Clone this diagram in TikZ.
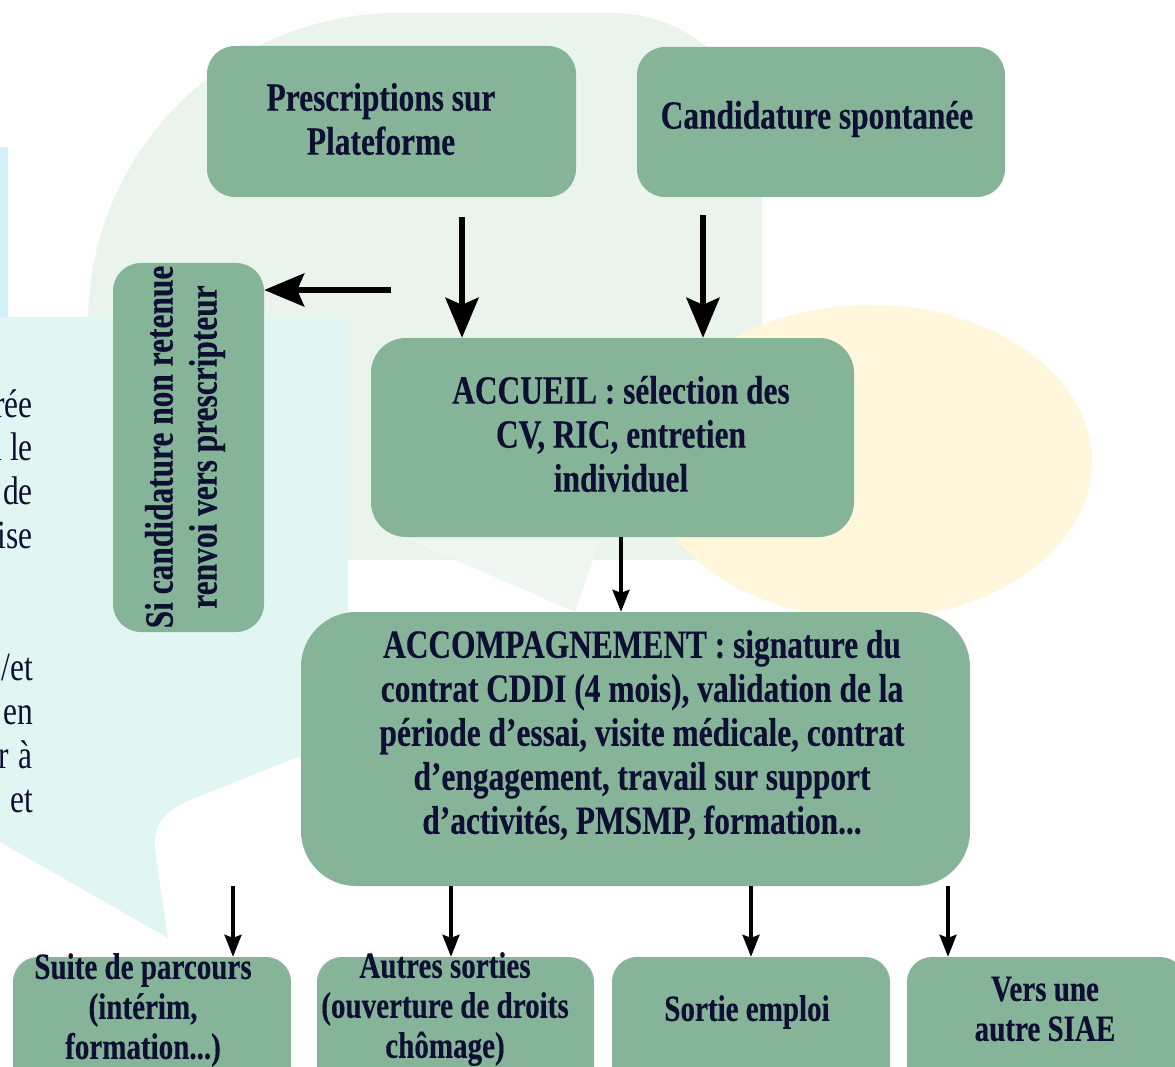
\documentclass[tikz,border=0pt]{standalone}
\usepackage{fontspec}
\setmainfont{Liberation Serif}[FakeStretch=0.785, BoldFeatures={FakeBold=0.3}]
\usetikzlibrary{arrows.meta}
\definecolor{boxgreen}{HTML}{86B499}
\definecolor{txt}{HTML}{0E0F33}
\definecolor{bggreen}{HTML}{EAF4EC}
\definecolor{bgcyan}{HTML}{E1F5F3}
\definecolor{bgyellow}{HTML}{FFF6DC}
\definecolor{bgblue}{HTML}{D4F1FA}
\begin{document}
\begin{tikzpicture}[x=1pt,y=-1pt,
  box/.style={fill=boxgreen, draw=none, rectangle, rounded corners=#1, inner sep=0pt},
  box/.default=28pt,
  lbl/.style={text=txt, font=\fontsize{40}{44}\selectfont\bfseries, align=center, inner sep=0pt},
  slbl/.style={text=txt, font=\fontsize{37}{40}\selectfont\bfseries, align=center, inner sep=0pt},
  frag/.style={text=txt, font=\fontsize{40}{44}\selectfont, anchor=base east, inner sep=0pt},
  bigarrow/.style={line width=5.5pt, -{Stealth[length=40pt, width=33pt, inset=7pt]}},
  smallarrow/.style={line width=3.2pt, -{Stealth[length=22pt, width=17pt, inset=3pt]}},
]
\useasboundingbox (0,0) rectangle (1175,1067);
\clip (0,0) rectangle (1175,1067);
\fill[white] (0,0) rectangle (1175,1067);

% background bubbles
\fill[bgblue] (0,147) rectangle (8,317);
\fill[bggreen] (88,560) -- (88,323) arc[start angle=180, end angle=270, radius=310]
  -- (612,13) arc[start angle=270, end angle=360, radius=150] -- (762,560) -- cycle;
\fill[bggreen!70!white] (410,540) -- (600,540) -- (575,612) -- cycle;
\fill[bgyellow] (870,462) ellipse[x radius=222, y radius=157];
\fill[bgyellow, rounded corners=40pt] (287,630) rectangle (420,770);
\fill[bgcyan] (0,317) -- (348,317) -- (348,737) -- (190,800)
  .. controls (160,812) and (153,830) .. (155,850) -- (168,938) -- (0,842) -- cycle;

% boxes
\node[box, minimum width=369pt, minimum height=151pt] (presc) at (391.5,121.5) {};
\node[box, minimum width=368pt, minimum height=150pt] (cand) at (821,122) {};
\node[box, minimum width=151pt, minimum height=369pt] (side) at (188.5,447.5) {};
\node[box=35pt, minimum width=483pt, minimum height=199pt] (accueil) at (612.5,437.5) {};
\node[box=55pt, minimum width=669pt, minimum height=274pt] (accomp) at (635.5,749) {};
\node[box=25pt, minimum width=278pt, minimum height=140pt] (suite) at (152,1027) {};
\node[box=25pt, minimum width=277pt, minimum height=140pt] (autres) at (455.5,1027) {};
\node[box=25pt, minimum width=278pt, minimum height=140pt] (sortie) at (751,1027) {};
\node[box=25pt, minimum width=278pt, minimum height=140pt] (vers) at (1046,1027) {};

% texts
\node[lbl] (prescT) at (381,119) {Prescriptions sur\\Plateforme};
\node[lbl] (candT) at (817,119) {Candidature spontanée};
\node[lbl, rotate=90] (sideT) at (185,447) {Si candidature non retenue\\renvoi vers prescripteur};
\node[lbl] (accueilT) at (621,434) {ACCUEIL : sélection des\\CV, RIC, entretien\\individuel};
\node[lbl] (accompT) at (642,735) {ACCOMPAGNEMENT : signature du\\contrat CDDI (4 mois), validation de la\\période d’essai, visite médicale, contrat\\d’engagement, travail sur support\\d’activités, PMSMP, formation...};
\node[slbl] (suiteT) at (143,1010) {Suite de parcours\\(intérim,\\formation...)};
\node[slbl] (autresT) at (445,1009) {Autres sorties\\(ouverture de droits\\chômage)};
\node[slbl] (sortieT) at (747,1012) {Sortie emploi};
\node[slbl] (versT) at (1045,1009) {Vers une\\autre SIAE};

% left text fragments
\node[frag] (f1) at (33,417) {rée};
\node[frag] (f2) at (33,460) {n\hspace{8pt}le};
\node[frag] (f3) at (33,504) {de};
\node[frag] (f4) at (33,548) {ise};
\node[frag] (f5) at (33,680) {/et};
\node[frag] (f6) at (33,724) {en};
\node[frag] (f7) at (33,768) {r\hspace{10pt}à};
\node[frag] (f8) at (33,812) {et};

% connectors
\coordinate (la) at (391,290);
\draw[bigarrow] (la) -- (side.east |- la);
\coordinate (pa) at (462,217);
\draw[bigarrow] (pa) -- (pa |- accueil.north);
\coordinate (ca) at (703,215);
\draw[bigarrow] (ca) -- (ca |- accueil.north);
\coordinate (aa) at (621,537);
\draw[smallarrow] (aa) -- (aa |- accomp.north);
\coordinate (b1) at (233,886);
\draw[smallarrow] (b1) -- (b1 |- suite.north);
\coordinate (b2) at (451,886);
\draw[smallarrow] (b2) -- (b2 |- autres.north);
\coordinate (b3) at (751,886);
\draw[smallarrow] (b3) -- (b3 |- sortie.north);
\coordinate (b4) at (948,886);
\draw[smallarrow] (b4) -- (b4 |- vers.north);
\end{tikzpicture}
\end{document}
